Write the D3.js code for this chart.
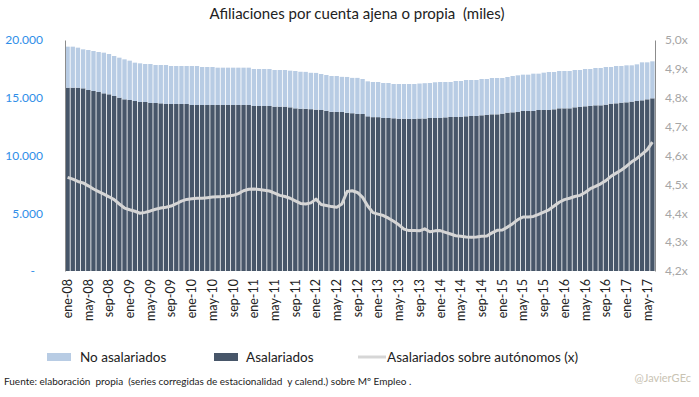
<!DOCTYPE html>
<html>
<head>
<meta charset="utf-8">
<script src="https://cdn.jsdelivr.net/npm/d3@7"></script>
<style>
  body { margin:0; background:#fff; }
  svg text { font-family: Lato, "Open Sans", sans-serif; white-space: pre; }
</style>
</head>
<body>
<div id="chart"></div>
<script>
// meses (ene-08 .. jun-17)
var mesesAbr = ["ene","feb","mar","abr","may","jun","jul","ago","sep","oct","nov","dic"];
var anios = ["08","09","10","11","12","13","14","15","16","17"];
var meses = [];
anios.forEach(function(a){ mesesAbr.forEach(function(m){ meses.push(m+"-"+a); }); });
meses = meses.slice(0,114);

// miles de afiliados
var asalariados = [
 15873,15873,15873,15815,15671,15584,15498,15382,15296,15152,15007,14863,
 14805,14718,14632,14632,14545,14545,14516,14459,14459,14459,14459,14459,
 14372,14372,14372,14372,14372,14372,14372,14372,14372,14372,14372,14372,
 14286,14286,14286,14286,14228,14228,14228,14170,14083,14050,14040,14010,
 13970,13939,13870,13780,13770,13770,13690,13660,13593,13593,13390,13320,
 13320,13247,13247,13220,13180,13180,13170,13170,13200,13200,13247,13247,
 13247,13300,13333,13333,13333,13391,13420,13420,13478,13506,13564,13564,
 13622,13708,13737,13766,13853,13853,13853,13939,13939,13939,13997,14083,
 14083,14083,14170,14199,14257,14286,14343,14343,14401,14488,14516,14574,
 14603,14661,14719,14776,14863,14950
];
var noAsalariados = [
 3550,3550,3463,3377,3463,3464,3463,3521,3492,3463,3463,3463,
 3406,3320,3348,3290,3377,3290,3319,3376,3290,3290,3290,3290,
 3377,3377,3290,3290,3290,3232,3232,3232,3232,3232,3232,3232,
 3203,3203,3203,3203,3175,3175,3175,3175,3233,3200,3200,3150,
 3180,3117,3100,3103,3113,3040,3110,3060,3127,3030,3030,3044,
 3044,3030,3030,2970,3010,3010,3020,3020,3030,3060,3030,3093,
 3117,3064,3031,3117,3117,3146,3117,3117,3145,3117,3146,3146,
 3088,3089,3146,3175,3146,3146,3232,3146,3233,3290,3232,3233,
 3233,3233,3233,3204,3232,3203,3233,3233,3261,3174,3233,3175,
 3204,3146,3174,3290,3203,3203
];
// asalariados sobre autonomos (x)
var ratio = [
 4.524,4.518,4.510,4.505,4.495,4.484,4.475,4.466,4.457,4.447,4.432,4.418,
 4.412,4.407,4.400,4.403,4.408,4.414,4.418,4.421,4.425,4.433,4.442,4.448,
 4.450,4.452,4.452,4.454,4.456,4.457,4.458,4.460,4.462,4.468,4.478,4.483,
 4.484,4.482,4.480,4.477,4.470,4.462,4.458,4.452,4.443,4.434,4.432,4.436,
 4.449,4.430,4.427,4.423,4.421,4.432,4.475,4.478,4.472,4.455,4.425,4.402,
 4.397,4.392,4.383,4.372,4.360,4.345,4.340,4.340,4.339,4.346,4.336,4.339,
 4.340,4.334,4.328,4.322,4.320,4.318,4.317,4.318,4.320,4.321,4.332,4.341,
 4.342,4.352,4.364,4.378,4.387,4.387,4.389,4.396,4.404,4.412,4.425,4.438,
 4.447,4.452,4.458,4.462,4.472,4.485,4.493,4.502,4.513,4.528,4.539,4.550,
 4.563,4.578,4.590,4.605,4.620,4.646
];
var ticksIzq = [0,5000,10000,15000,20000];
var ticksDer = [4.2,4.3,4.4,4.5,4.6,4.7,4.8,4.9,5.0];

var W=699, H=397;
var m = {left:65, right:44, top:40, bottom:126};
var iw = W-m.left-m.right, ih = H-m.top-m.bottom;

var svg = d3.select("#chart").append("svg").attr("width",W).attr("height",H);

var x = d3.scaleBand().domain(meses).range([m.left, m.left+iw]).paddingInner(0.16).paddingOuter(0.08);
var y = d3.scaleLinear().domain([0,20000]).range([m.top+ih, m.top]);
var y2 = d3.scaleLinear().domain([4.2,5.0]).range([m.top+ih, m.top]);

var es = d3.formatLocale({decimal:",", thousands:".", grouping:[3], currency:["","€"]});
var fmtIzq = es.format(",.0f");
var fmtDer = es.format(".1f");

// titulo
svg.append("text").attr("x",357).attr("y",19).attr("text-anchor","middle")
  .style("font-size","15px").style("fill","#222")
  .text("Afiliaciones por cuenta ajena o propia  (miles)");

// barras apiladas
var datos = meses.map(function(d,i){ return {mes:d, a:asalariados[i], n:noAsalariados[i]}; });
var pila = d3.stack().keys(["a","n"])(datos);
var colores = {a:"#475669", n:"#b8cce4"};
svg.append("g").selectAll("g").data(pila).enter().append("g")
  .attr("fill", function(d){ return colores[d.key]; })
  .selectAll("rect").data(function(d){ return d; }).enter().append("rect")
  .attr("x", function(d){ return x(d.data.mes); })
  .attr("width", x.bandwidth())
  .attr("y", function(d){ return y(d[1]); })
  .attr("height", function(d){ return y(d[0]) - y(d[1]); });

// linea
var linea = d3.line()
  .x(function(d,i){ return x(meses[i]) + x.bandwidth()/2; })
  .y(function(d){ return y2(d); });
svg.append("path").datum(ratio).attr("d", linea)
  .attr("fill","none").attr("stroke","#d6d6d6").attr("stroke-width",3).attr("stroke-linejoin","round");

// eje izquierdo
var ejeIzq = svg.append("g").attr("transform","translate("+m.left+",0)")
  .call(d3.axisLeft(y).tickValues(ticksIzq).tickSize(0).tickPadding(22)
    .tickFormat(function(d){ return d===0 ? "-" : fmtIzq(d); }));
ejeIzq.select(".domain").attr("stroke","#8c8c8c");
ejeIzq.selectAll("text").style("font-size","12px").style("fill","#2e8ee8").style("font-family","Lato, sans-serif");
ejeIzq.selectAll(".tick text").filter(function(d){ return d===0; }).attr("dx","-8");

// eje derecho
var ejeDer = svg.append("g").attr("transform","translate("+(m.left+iw)+",0)")
  .call(d3.axisRight(y2).tickValues(ticksDer).tickSize(0).tickPadding(10)
    .tickFormat(function(d){ return fmtDer(d)+"x"; }));
ejeDer.select(".domain").attr("stroke","#8c8c8c");
ejeDer.selectAll("text").style("font-size","12px").style("fill","#a6a6a6").style("font-family","Lato, sans-serif");

// eje x
var ejeX = svg.append("g").attr("transform","translate(0,"+(m.top+ih)+")")
  .call(d3.axisBottom(x).tickValues(meses.filter(function(d,i){ return i%4===0; })).tickSize(0));
ejeX.select(".domain").remove();
ejeX.selectAll("text")
  .attr("transform","rotate(-90)")
  .attr("text-anchor","end")
  .attr("x",-8).attr("y",0).attr("dy","0.35em")
  .style("font-size","12.5px").style("fill","#222").style("font-family","Lato, sans-serif");

// leyenda
var ley = svg.append("g").style("font-size","13.5px");
ley.append("rect").attr("x",47).attr("y",353).attr("width",24).attr("height",8).attr("fill",colores.n);
ley.append("text").attr("x",80).attr("y",362).text("No asalariados").style("fill","#222");
ley.append("rect").attr("x",214).attr("y",353).attr("width",24).attr("height",8).attr("fill",colores.a);
ley.append("text").attr("x",246).attr("y",362).text("Asalariados").style("fill","#222");
ley.append("line").attr("x1",358).attr("x2",386).attr("y1",357).attr("y2",357).attr("stroke","#d6d6d6").attr("stroke-width",3);
ley.append("text").attr("x",387).attr("y",362).text("Asalariados sobre autónomos (x)").style("fill","#222");

// fuente
svg.append("text").attr("x",4).attr("y",385).style("font-size","10px").style("fill","#222")
  .text("Fuente: elaboración  propia  (series corregidas de estacionalidad  y calend.) sobre Mº Empleo .");
svg.append("text").attr("x",691).attr("y",382).attr("text-anchor","end").style("font-size","11px").style("fill","#c9c3b3")
  .text("@JavierGEc");
</script>
</body>
</html>
